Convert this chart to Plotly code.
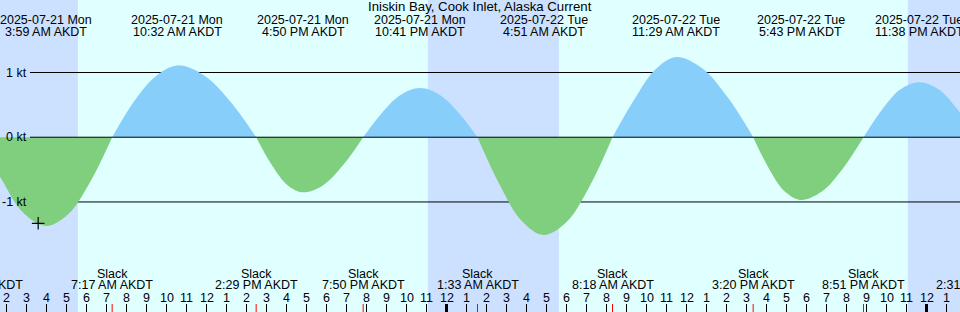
import plotly.graph_objects as go
from datetime import datetime, timedelta

# ---------------- data ----------------
TITLE = "Iniskin Bay, Cook Inlet, Alaska Current"
X_START = "2025-07-21 01:40:30"
X_END = "2025-07-23 01:40:30"
Y_MIN, Y_MAX = -2.70, 2.12

# current curve (knots); slack points are 0
curve_times = [
    "2025-07-21 00:36", "2025-07-21 01:44", "2025-07-21 02:51", "2025-07-21 03:59",
    "2025-07-21 05:05", "2025-07-21 06:11", "2025-07-21 07:17",
    "2025-07-21 08:22", "2025-07-21 09:27", "2025-07-21 10:32",
    "2025-07-21 11:51", "2025-07-21 13:10", "2025-07-21 14:29",
    "2025-07-21 15:16", "2025-07-21 16:03", "2025-07-21 16:50",
    "2025-07-21 17:50", "2025-07-21 18:50", "2025-07-21 19:50",
    "2025-07-21 20:47", "2025-07-21 21:44", "2025-07-21 22:41",
    "2025-07-21 23:38", "2025-07-22 00:36", "2025-07-22 01:33",
    "2025-07-22 02:39", "2025-07-22 03:45", "2025-07-22 04:51",
    "2025-07-22 06:00", "2025-07-22 07:09", "2025-07-22 08:18",
    "2025-07-22 09:22", "2025-07-22 10:25", "2025-07-22 11:29",
    "2025-07-22 12:46", "2025-07-22 14:03", "2025-07-22 15:20",
    "2025-07-22 16:08", "2025-07-22 16:55", "2025-07-22 17:43",
    "2025-07-22 18:46", "2025-07-22 19:48", "2025-07-22 20:51",
    "2025-07-22 21:47", "2025-07-22 22:42", "2025-07-22 23:38",
    "2025-07-23 00:36", "2025-07-23 01:33", "2025-07-23 02:31",
]
curve_kt = [
    0, -0.64, -1.17, -1.37,
    -1.19, -0.69, 0,
    0.55, 0.94, 1.11,
    0.96, 0.56, 0,
    -0.43, -0.74, -0.85,
    -0.74, -0.43, 0,
    0.38, 0.66, 0.76,
    0.66, 0.38, 0,
    -0.73, -1.29, -1.51,
    -1.31, -0.76, 0,
    0.57, 1.04, 1.24,
    1.07, 0.62, 0,
    -0.49, -0.84, -0.97,
    -0.84, -0.49, 0,
    0.43, 0.74, 0.85,
    0.74, 0.43, 0,
]

extreme_times = ["2025-07-21 03:59", "2025-07-21 10:32", "2025-07-21 16:50", "2025-07-21 22:41",
                 "2025-07-22 04:51", "2025-07-22 11:29", "2025-07-22 17:43", "2025-07-22 23:38"]
extreme_dates = ["2025-07-21 Mon", "2025-07-21 Mon", "2025-07-21 Mon", "2025-07-21 Mon",
                 "2025-07-22 Tue", "2025-07-22 Tue", "2025-07-22 Tue", "2025-07-22 Tue"]
extreme_labels = ["3:59 AM AKDT", "10:32 AM AKDT", "4:50 PM AKDT", "10:41 PM AKDT",
                  "4:51 AM AKDT", "11:29 AM AKDT", "5:43 PM AKDT", "11:38 PM AKDT"]

slack_times = ["2025-07-21 00:36", "2025-07-21 07:17", "2025-07-21 14:29", "2025-07-21 19:50",
               "2025-07-22 01:33", "2025-07-22 08:18", "2025-07-22 15:20", "2025-07-22 20:51",
               "2025-07-23 02:31"]
slack_labels = ["12:36 AM AKDT", "7:17 AM AKDT", "2:29 PM AKDT", "7:50 PM AKDT",
                "1:33 AM AKDT", "8:18 AM AKDT", "3:20 PM AKDT", "8:51 PM AKDT",
                "2:31 AM AKDT"]

night_starts = [X_START, "2025-07-21 23:04", "2025-07-22 23:04"]
night_ends = ["2025-07-21 05:34", "2025-07-22 05:37", X_END]

midnights = ["2025-07-22 00:00", "2025-07-23 00:00"]

ytick_vals = [1, 0, -1]
ytick_text = ["1 kt", "0 kt", "-1 kt"]

now_time = ["2025-07-21 03:35"]
now_kt = [-1.33]

_h0 = datetime(2025, 7, 21, 2, 0)
hour_ticks = [(_h0 + timedelta(hours=i)).strftime("%Y-%m-%d %H:%M") for i in range(48)]
hour_text = [str(((_h0 + timedelta(hours=i)).hour + 11) % 12 + 1) for i in range(48)]

# ---------------- style ----------------
W, H = 960, 312
DAY = "#E0FFFF"
NIGHT = "#CCE0FF"
FLOOD = "#87CEFA"
EBB = "#7FCF7F"
FONT = "Liberation Sans"
FS = 12.5


def py(px):
    return 1 - px / H


_t0 = datetime.fromisoformat(X_START)
_t1 = datetime.fromisoformat(X_END)


def xfrac(t):
    """time -> paper fraction along the x axis (so labels just off the range still show)"""
    return (datetime.fromisoformat(t) - _t0) / (_t1 - _t0)


fig = go.Figure()

# half-cycle fills
segs, cur = [], []
for t, v in zip(curve_times, curve_kt):
    cur.append((t, v))
    if v == 0 and len(cur) > 1:
        segs.append(cur)
        cur = [(t, v)]
for seg in segs:
    xs = [p[0] for p in seg]
    ys = [p[1] for p in seg]
    col = FLOOD if max(ys) > 0 else EBB
    fig.add_trace(go.Scatter(x=xs, y=ys, mode="lines",
                             line=dict(width=0, shape="spline", smoothing=1.0, color=col),
                             fill="toself", fillcolor=col, hoverinfo="skip",
                             showlegend=False))

fig.add_trace(go.Scatter(x=now_time, y=now_kt, mode="markers",
                         marker=dict(symbol="cross-thin", size=9, color="black",
                                     line=dict(color="black", width=1.2)),
                         hoverinfo="skip", showlegend=False))

shapes = []
for a, b in zip(night_starts, night_ends):
    shapes.append(dict(type="rect", xref="x", yref="paper", x0=a, x1=b, y0=0, y1=1,
                       fillcolor=NIGHT, line=dict(width=0), layer="below"))
for v in ytick_vals:
    shapes.append(dict(type="line", xref="paper", yref="y", x0=30 / W, x1=1, y0=v, y1=v,
                       line=dict(color="black", width=1),
                       layer="above" if v == 0 else "below"))
for t in midnights:
    shapes.append(dict(type="line", xref="x", yref="paper", x0=t, x1=t,
                       y0=0, y1=py(304), line=dict(color="black", width=3)))
for t in slack_times:
    shapes.append(dict(type="line", xref="x", yref="paper", x0=t, x1=t,
                       y0=0, y1=py(304), line=dict(color="red", width=1)))

ann = []
f = dict(family=FONT, size=FS, color="black")


def label(text, t, ypx):
    ann.append(dict(text=text, x=xfrac(t), xref="paper", y=py(ypx), yref="paper",
                    showarrow=False, xanchor="center", yanchor="middle", font=f))


ann.append(dict(text=TITLE, x=0.5, xref="paper", y=py(6.7), yref="paper",
                showarrow=False, xanchor="center", yanchor="middle",
                font=dict(family=FONT, size=13.2, color="black")))
for t, d, l in zip(extreme_times, extreme_dates, extreme_labels):
    label(d, t, 19.6)
    label(l, t, 32.4)
for t, l in zip(slack_times, slack_labels):
    label("Slack", t, 273.8)
    label(l, t, 285.2)
for t, l in zip(hour_ticks, hour_text):
    label(l, t, 297.5)
for v, l in zip(ytick_vals, ytick_text):
    ann.append(dict(text=l, x=29 / W, xref="paper", y=v, yref="y", showarrow=False,
                    xanchor="right", yanchor="middle", font=f))

fig.update_layout(
    width=W, height=H, margin=dict(l=0, r=0, t=0, b=0, pad=0),
    paper_bgcolor=DAY, plot_bgcolor=DAY,
    shapes=shapes, annotations=ann, showlegend=False,
    xaxis=dict(type="date", range=[X_START, X_END], showgrid=False, zeroline=False,
               showline=False, tickmode="array", tickvals=hour_ticks,
               ticktext=hour_text, showticklabels=False, ticks="inside",
               ticklen=8, tickwidth=1, tickcolor="black", fixedrange=True),
    yaxis=dict(range=[Y_MIN, Y_MAX], showgrid=False, zeroline=False, showline=False,
               showticklabels=False, ticks="", fixedrange=True),
)

fig.write_html("out.html", config=dict(displayModeBar=False))
